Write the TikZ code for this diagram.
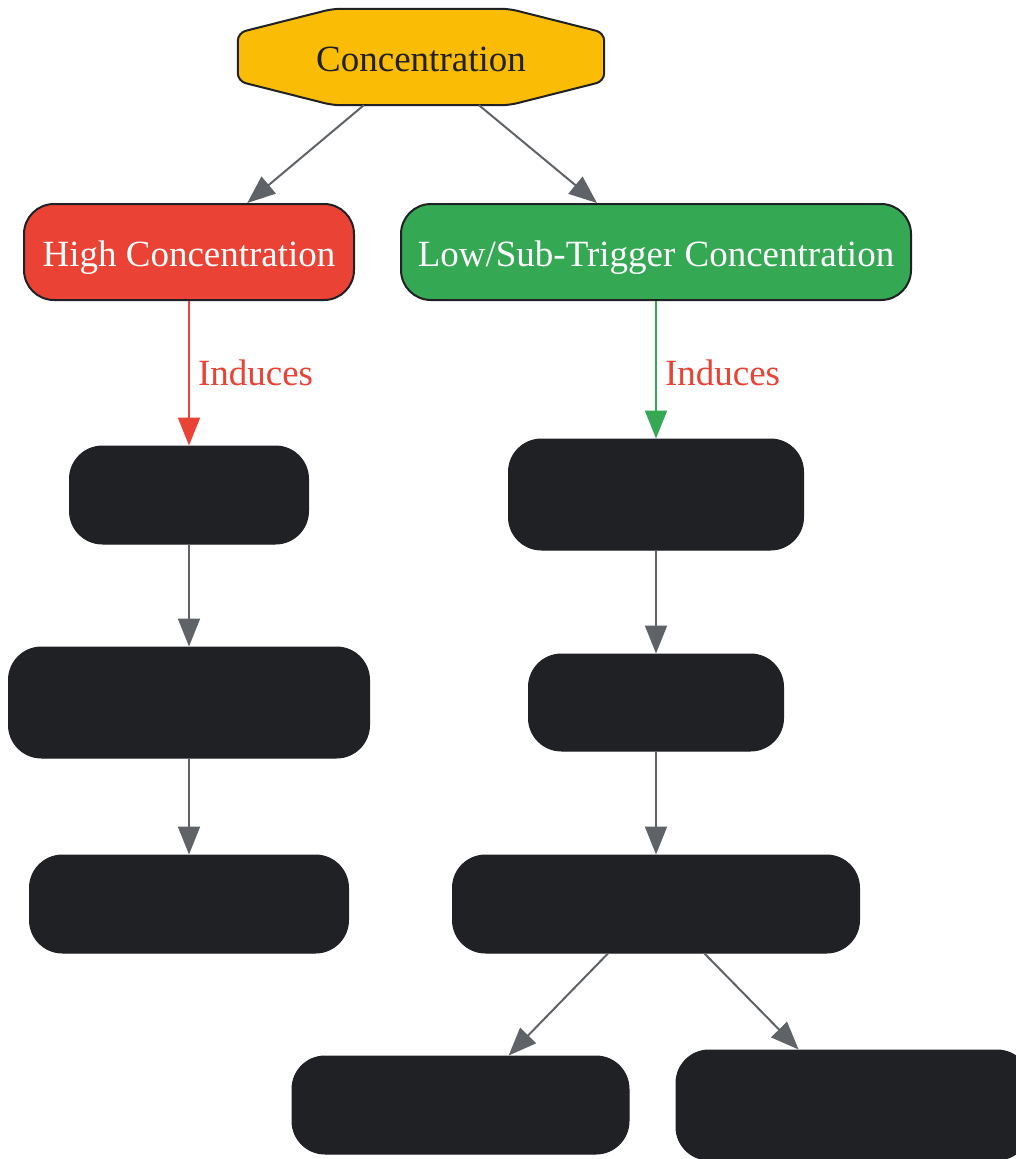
\documentclass[tikz,border=0pt]{standalone}
\usepackage{fontspec}
\setmainfont{Liberation Serif}
\usetikzlibrary{arrows.meta,backgrounds}
\definecolor{cgold}{HTML}{FBBC05}
\definecolor{cred}{HTML}{EA4335}
\definecolor{cgreen}{HTML}{34A853}
\definecolor{cdark}{HTML}{202124}
\definecolor{cgray}{HTML}{5F6368}
\begin{document}
\begin{tikzpicture}[x=1pt,y=-1pt,
  font=\fontsize{37pt}{44pt}\selectfont,
  colbox/.style={draw=cdark,line width=2pt,rounded corners=30pt,inner sep=0pt,text=white,text height=28pt,text depth=0pt},
  darkbox/.style={fill=cdark,draw=cdark,line width=1pt,rounded corners=33pt,inner sep=0pt},
  link/.style={draw=cgray,line width=2pt,-{Triangle[length=28pt,width=22pt]}},
  lbl/.style={anchor=west,inner sep=0pt}
]
\useasboundingbox (0,0) rectangle (1016,1159);
\node[minimum width=366pt,minimum height=96pt,inner sep=0pt,text=cdark,text height=29pt,text depth=0pt] (conc) at (421,57) {Concentration};
\begin{scope}[on background layer]
\draw[fill=cgold,draw=cdark,line width=2pt,rounded corners=8pt]
  ([yshift=-24pt]conc.north west) -- ([xshift=95pt]conc.north west) -- ([xshift=-95pt]conc.north east)
  -- ([yshift=-24pt]conc.north east) -- ([yshift=24pt]conc.south east) -- ([xshift=-95pt]conc.south east)
  -- ([xshift=95pt]conc.south west) -- ([yshift=24pt]conc.south west) -- cycle;
\end{scope}
\node[colbox,fill=cred,minimum width=330pt,minimum height=96pt] (high) at (189,252) {High Concentration};
\node[colbox,fill=cgreen,minimum width=510pt,minimum height=96pt] (low) at (656,252) {Low/Sub-Trigger Concentration};
\node[darkbox,minimum width=239pt,minimum height=98pt] (l1) at (189,495) {};
\node[darkbox,minimum width=361pt,minimum height=111pt] (l2) at (189,702.5) {};
\node[darkbox,minimum width=319pt,minimum height=98pt] (l3) at (189,904) {};
\node[darkbox,minimum width=295pt,minimum height=111pt] (r1) at (656,494.5) {};
\node[darkbox,minimum width=255pt,minimum height=97pt] (r2) at (656,702.5) {};
\node[darkbox,minimum width=407pt,minimum height=98pt] (r3) at (656,904) {};
\node[darkbox,minimum width=337pt,minimum height=98pt] (r4) at (460.5,1105) {};
\node[darkbox,minimum width=354pt,minimum height=110pt] (r5) at (853,1105) {};
\draw[link] (conc) -- (high);
\draw[link] (conc) -- (low);
\draw[link,draw=cred] (high) -- (l1) node[pos=0.5,lbl,text=cred,xshift=8pt] (ind1) {Induces};
\draw[link,draw=cgreen] (low) -- (r1) node[pos=0.52,lbl,text=cred,xshift=8pt] (ind2) {Induces};
\draw[link] (l1) -- (l2);
\draw[link] (l2) -- (l3);
\draw[link] (r1) -- (r2);
\draw[link] (r2) -- (r3);
\draw[link] (r3) -- (r4);
\draw[link] (r3) -- (r5);
\end{tikzpicture}
\end{document}
